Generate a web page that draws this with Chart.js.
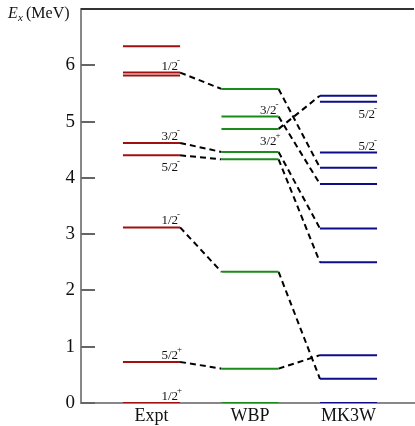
<!DOCTYPE html>
<html>
<head>
<meta charset="utf-8">
<script src="https://cdn.jsdelivr.net/npm/chart.js@4"></script>
<style>
  body { margin: 0; background: #fff; }
</style>
</head>
<body>
<canvas id="levels" width="415" height="426"></canvas>
<script>
const models = ["Expt", "WBP", "MK3W"];
const modelColors = ["#a01010", "#1a8c1a", "#0c0c8c"];

// excitation energies in MeV
const exptLevels = [0, 0.73, 3.12, 4.40, 4.62, 5.82, 5.87, 6.34];
const wbpLevels = [0, 0.61, 2.33, 4.33, 4.46, 4.87, 5.09, 5.58];
const mk3wLevels = [0, 0.43, 0.85, 2.50, 3.10, 3.89, 4.18, 4.45, 5.35, 5.46];
const allLevels = [exptLevels, wbpLevels, mk3wLevels];

// dashed links: [model, level index] -> [model, level index]
const links = [
  [0, 6, 1, 7], [0, 4, 1, 4], [0, 3, 1, 3], [0, 2, 1, 2], [0, 1, 1, 1],
  [1, 7, 2, 6], [1, 6, 2, 5], [1, 5, 2, 9], [1, 4, 2, 4], [1, 3, 2, 3],
  [1, 2, 2, 1], [1, 1, 2, 2]
];

// spin labels: model, level index, spin, parity, above/below
const spinLabels = [
  [0, 6, "1/2", "-", "above"],
  [0, 4, "3/2", "-", "above"],
  [0, 3, "5/2", "-", "below"],
  [0, 2, "1/2", "-", "above"],
  [0, 1, "5/2", "+", "above"],
  [0, 0, "1/2", "+", "above"],
  [1, 6, "3/2", "-", "above"],
  [1, 5, "3/2", "+", "below"],
  [2, 8, "5/2", "-", "below"],
  [2, 7, "5/2", "-", "above"]
];

const yTicks = [0, 1, 2, 3, 4, 5, 6];
const halfWidth = 0.29;

const datasets = [];
allLevels.forEach((levels, m) => {
  levels.forEach((e) => {
    datasets.push({
      data: [{x: m + 1 - halfWidth, y: e}, {x: m + 1 + halfWidth, y: e}],
      borderColor: modelColors[m],
      borderWidth: 2,
      showLine: true,
      pointRadius: 0
    });
  });
});
links.forEach(([m1, i1, m2, i2]) => {
  datasets.push({
    data: [
      {x: m1 + 1 + halfWidth, y: allLevels[m1][i1]},
      {x: m2 + 1 - halfWidth, y: allLevels[m2][i2]}
    ],
    borderColor: "#000",
    borderWidth: 2,
    borderDash: [6, 4],
    showLine: true,
    pointRadius: 0
  });
});

const serif = "'Liberation Serif', 'DejaVu Serif', serif";

const decor = {
  id: "decor",
  afterDraw(chart) {
    const ctx = chart.ctx;
    const xs = chart.scales.x, ys = chart.scales.y;
    const area = chart.chartArea;
    ctx.save();

    // top frame line
    ctx.strokeStyle = "#333";
    ctx.lineWidth = 2;
    ctx.beginPath();
    ctx.moveTo(area.left, area.top);
    ctx.lineTo(area.right, area.top);
    ctx.stroke();

    // inward ticks
    ctx.strokeStyle = "#666";
    yTicks.forEach((t) => {
      const y = Math.round(ys.getPixelForValue(t));
      ctx.beginPath();
      ctx.moveTo(area.left, y);
      ctx.lineTo(area.left + 14, y);
      ctx.stroke();
    });

    // category labels
    ctx.fillStyle = "#111";
    ctx.font = "18px " + serif;
    ctx.textAlign = "center";
    ctx.textBaseline = "alphabetic";
    models.forEach((name, m) => {
      ctx.fillText(name, xs.getPixelForValue(m + 1), 421);
    });

    // spin labels
    spinLabels.forEach(([m, i, spin, parity, pos]) => {
      const xr = xs.getPixelForValue(m + 1 + halfWidth);
      const y = ys.getPixelForValue(allLevels[m][i]);
      const base = pos === "above" ? y - 3 : y + 16;
      ctx.font = "9px " + serif;
      ctx.textAlign = "left";
      ctx.fillText(parity, xr - 3, base - 7);
      ctx.font = "13px " + serif;
      ctx.textAlign = "right";
      ctx.fillText(spin, xr - 2, base);
    });

    // y title
    ctx.textAlign = "left";
    ctx.font = "italic 16px " + serif;
    ctx.fillText("E", 8, 18);
    ctx.font = "italic 11px " + serif;
    ctx.fillText("x", 18, 21);
    ctx.font = "16px " + serif;
    ctx.fillText("(MeV)", 26, 18);

    ctx.restore();
  }
};

const config = {
  type: "scatter",
  data: {datasets},
  options: {
    responsive: false,
    animation: false,
    layout: {padding: {top: 9, right: 1}},
    plugins: {legend: {display: false}, tooltip: {enabled: false}},
    scales: {
      x: {
        type: "linear",
        min: 0.284,
        max: 3.665,
        ticks: {display: false},
        grid: {display: true, drawOnChartArea: false, drawTicks: false},
        border: {color: "#888", width: 2},
        afterFit(scale) { scale.height = 23; }
      },
      y: {
        min: 0,
        max: 7,
        ticks: {
          stepSize: 1,
          padding: 6,
          color: "#111",
          font: {family: serif, size: 19},
          callback: (v) => (yTicks.includes(v) ? v : null)
        },
        grid: {display: true, drawOnChartArea: false, drawTicks: false},
        border: {color: "#888", width: 2},
        afterFit(scale) {
          scale.width = 81;
          scale.paddingTop = 0;
        }
      }
    }
  },
  plugins: [decor]
};

const canvas = document.getElementById("levels");
const levelChart = new Chart(canvas, config);
</script>
</body>
</html>
